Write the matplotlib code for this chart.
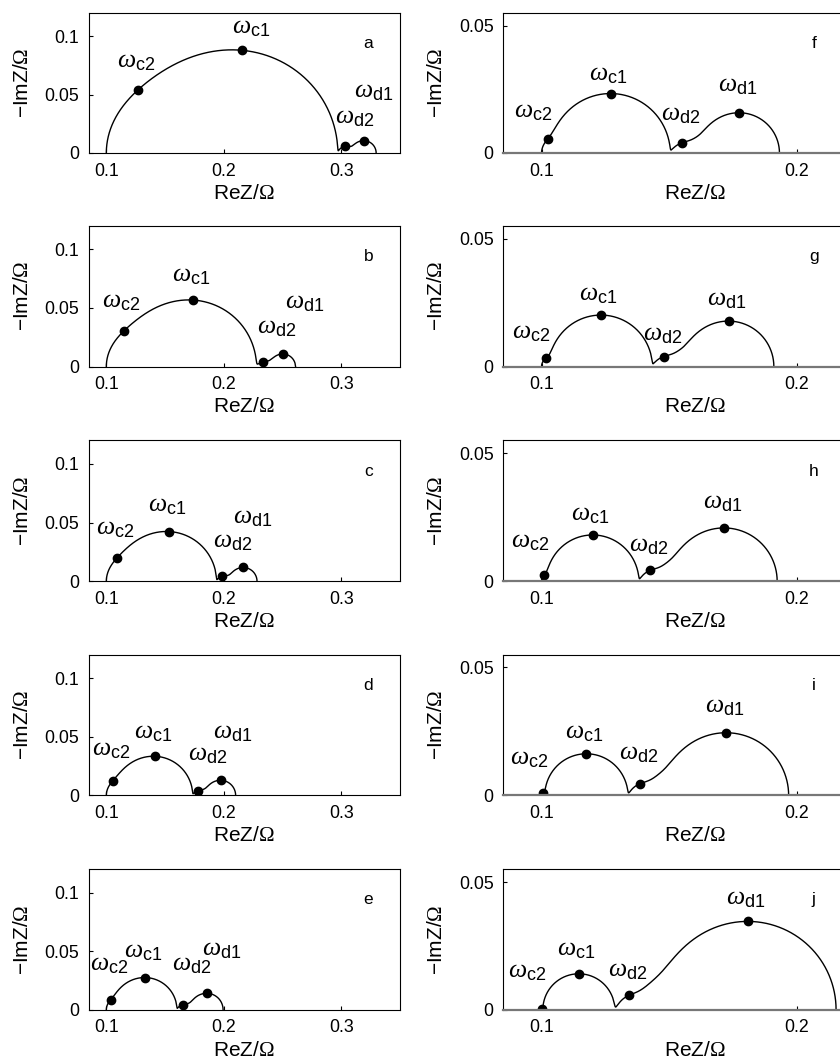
import numpy as np
import matplotlib
matplotlib.use("Agg")
import matplotlib.pyplot as plt

plt.rcParams.update({
    "font.family": ["Liberation Sans", "DejaVu Sans"],
    "mathtext.fontset": "custom",
    "mathtext.it": "Liberation Serif:italic",
    "mathtext.rm": "Liberation Serif",
    "mathtext.sf": "Liberation Sans",
})

# Equivalent-circuit parameters of the ten spectra (a-j).
# Z = R0 + RC(c2) + RC(c1) + ZARC(d2) + finite-length Warburg(d1)
panels = list("abcdefghij")
R0 = 0.1
R_c2 = [0.0377, 0.0222, 0.0134, 0.0090, 0.0064, 0.0043, 0.0034, 0.0021, 0.0013, 0.0005]
R_c1 = [0.1592, 0.1053, 0.0803, 0.0644, 0.0536, 0.0460, 0.0399, 0.0359, 0.0324, 0.0280]
R_d2 = [0.0081, 0.0092, 0.0070, 0.0064, 0.0062, 0.0055, 0.0055, 0.0047, 0.0047, 0.0042]
R_d1 = [0.0247, 0.0244, 0.0276, 0.0303, 0.0332, 0.0375, 0.0423, 0.0497, 0.0585, 0.0828]
alpha_d2 = [0.950, 0.613, 0.825, 0.775, 0.863, 0.800, 0.800, 0.887, 0.900, 0.975]
# characteristic angular frequencies (normalised to omega_d1)
omega_c2 = [4.38e5, 1.14e6, 1.05e6, 1.43e6, 2.03e6, 2.87e6, 7.07e6, 7.04e6, 3.06e7, 1.01e8]
omega_c1 = [1.03e5, 2.13e5, 1.74e5, 1.81e5, 2.05e5, 2.13e5, 2.94e5, 2.72e5, 3.06e5, 3.19e5]
omega_d2 = [34.3, 71.0, 58.0, 60.4, 68.2, 71.0, 98.1, 90.5, 102.2, 106.4]
omega_d1 = [1.0] * 10
freq_names = ["c2", "c1", "d2", "d1"]

# x tick / y tick labels of the two columns
left_xticks, left_yticks = ["0.1", "0.2", "0.3"], ["0", "0.05", "0.1"]
right_xticks, right_yticks = ["0.1", "0.2"], ["0", "0.05"]

WS_PEAK = 2.54  # omega*tau at the Warburg apex


def impedance(w, i):
    w = np.asarray(w, dtype=float)
    z = R0 + R_c2[i] / (1 + 1j * w / omega_c2[i]) + R_c1[i] / (1 + 1j * w / omega_c1[i])
    z = z + R_d2[i] / (1 + (1j * w / omega_d2[i]) ** alpha_d2[i])
    s = np.sqrt(1j * w * WS_PEAK / omega_d1[i])
    return z + R_d1[i] * np.tanh(s) / s


# label offsets (pixels) of the frequency markers: c2, c1, d2, d1
label_offsets = [
    [(-21, 21.7), (-10, 17), (-10, 22.7), (-10, 43.3)],
    [(-21.3, 24.3), (-21.7, 19), (-5.7, 28.3), (1.7, 45.3)],
    [(-20.7, 23.3), (-21.3, 19.7), (-9.3, 29.3), (-10.7, 44.3)],
    [(-21, 25.3), (-21, 18.3), (-10, 30.3), (-7.7, 42.3)],
    [(-20.3, 29), (-21, 19.7), (-10.3, 34), (-5, 38.3)],
    [(-33.7, 21), (-22.3, 13.3), (-21.3, 22.3), (-21.7, 21.3)],
    [(-34, 20), (-21.7, 14.7), (-21.3, 16), (-21.7, 16)],
    [(-33.3, 27.7), (-21.7, 14.7), (-21, 19.3), (-21, 19.7)],
    [(-33.7, 28.3), (-21.3, 15), (-21, 24.3), (-21.7, 20)],
    [(-34, 31.7), (-21.7, 18.3), (-21, 19.3), (-21.7, 16.7)],
]

W, H = 840, 1058
fig = plt.figure(figsize=(W / 100, H / 100), dpi=100)
rows_px = [(13, 153), (226, 366.5), (440.3, 581.3), (654.6, 795.4), (869.3, 1009.7)]

for i, p in enumerate(panels):
    col, row = divmod(i, 5)
    top, bot = rows_px[row]
    if col == 0:
        rect = [88.7 / W, 1 - bot / H, 311.3 / W, (bot - top) / H]
    else:
        rect = [503.3 / W, 1 - bot / H, 382.5 / W, (bot - top) / H]
    ax = fig.add_axes(rect)

    w = np.logspace(-3, np.log10(omega_c2[i]) + 3, 8000)
    z = impedance(w, i)
    ax.plot(z.real, -z.imag, color="black", lw=1.0)

    wm = [omega_c2[i], omega_c1[i], omega_d2[i], omega_d1[i]]
    zm = impedance(wm, i)
    ax.plot(zm.real, -zm.imag, "o", color="black", ms=6)
    for m, nm in enumerate(freq_names):
        ax.annotate(r"$\omega_{\mathsf{%s}}$" % nm, (zm[m].real, -zm[m].imag),
                    xytext=label_offsets[i][m], textcoords="offset pixels",
                    ha="left", va="baseline", fontsize=18.5)

    if col == 0:
        ax.set_xlim(0.085, 0.35)
        ax.set_ylim(0, 0.12)
        ax.set_xticks([float(t) for t in left_xticks])
        ax.set_xticklabels(left_xticks)
        ax.set_yticks([float(t) for t in left_yticks])
        ax.set_yticklabels(left_yticks)
        lx = 0.3232
    else:
        ax.set_xlim(0.085, 0.235)
        ax.set_ylim(0, 0.055)
        ax.set_xticks([float(t) for t in right_xticks])
        ax.set_xticklabels(right_xticks)
        ax.set_yticks([float(t) for t in right_yticks])
        ax.set_yticklabels(right_yticks)
        lx = 0.2068
        ax.spines["bottom"].set_color("#777777")
        ax.spines["bottom"].set_linewidth(1.6)
    ax.text(lx, 0.75, p, transform=ax.get_xaxis_transform(),
            ha="center", va="baseline", fontsize=12.5)
    ax.tick_params(direction="in", length=3, labelsize=12.8, pad=7)
    ax.set_xlabel(r"ReZ/$\mathrm{\Omega}$", fontsize=15, labelpad=3)
    ax.set_ylabel(r"−ImZ/$\mathrm{\Omega}$", fontsize=15, labelpad=9)

fig.savefig("out.png", dpi=100)
